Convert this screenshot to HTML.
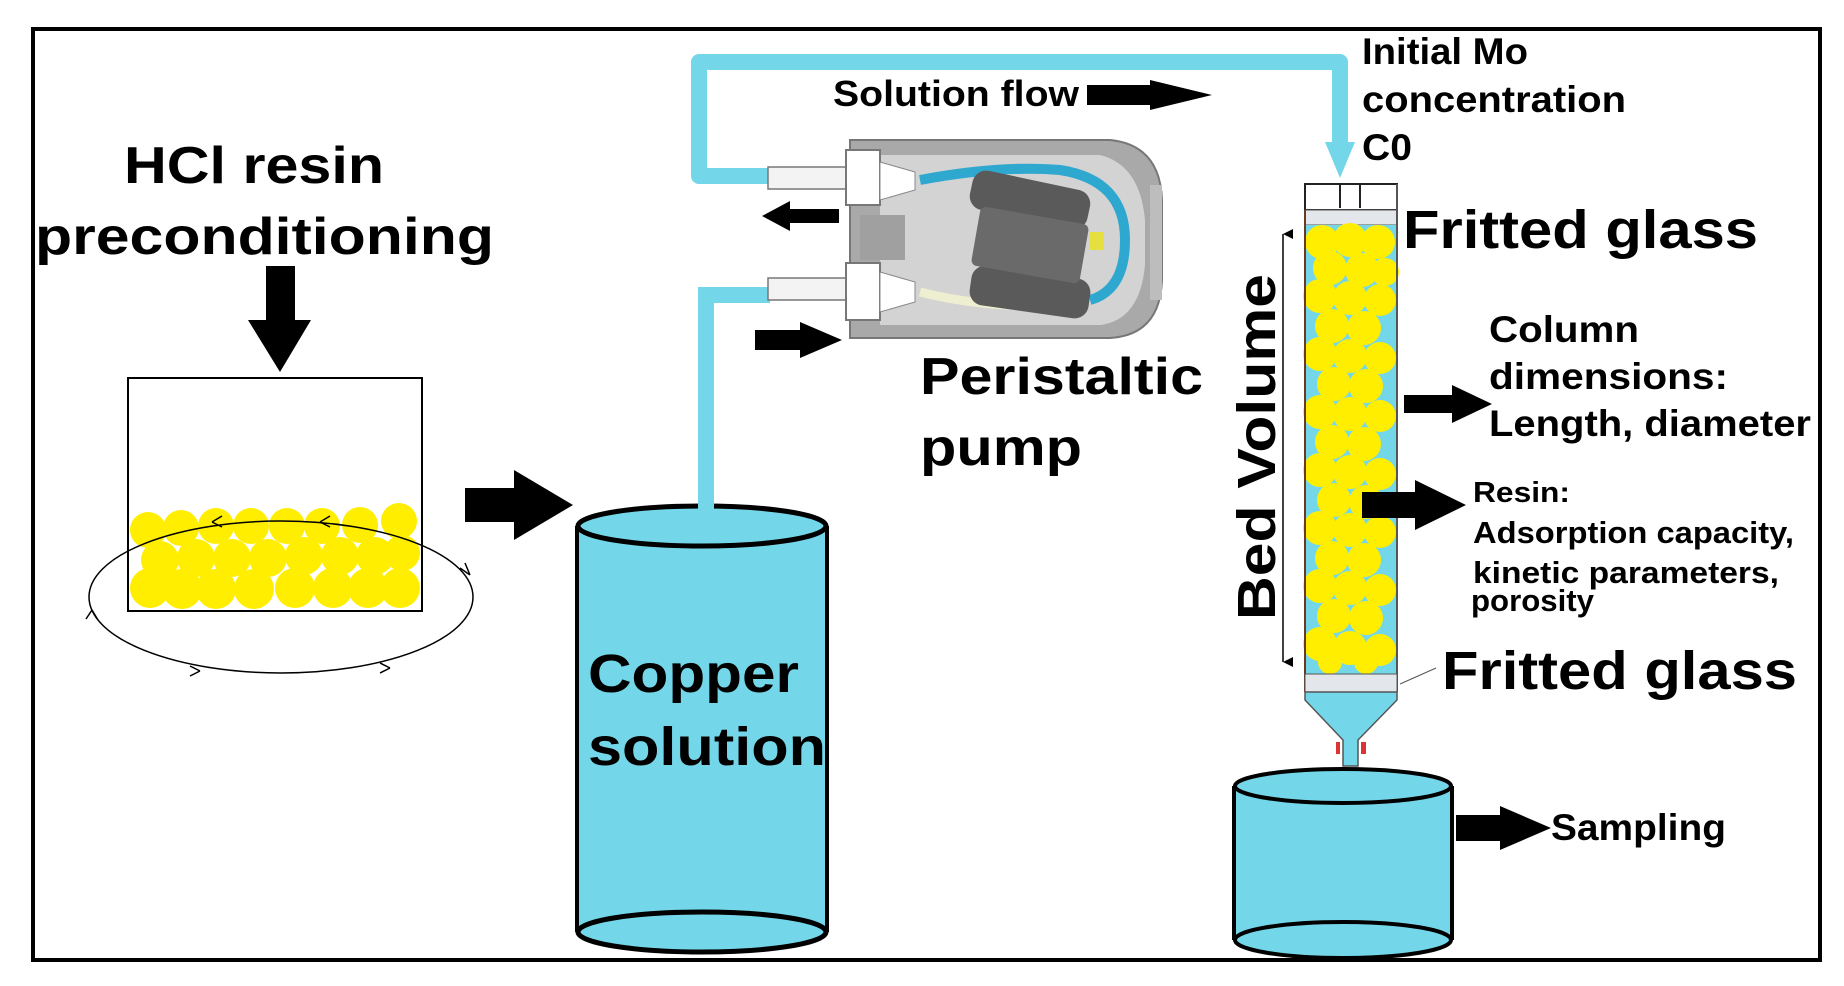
<!DOCTYPE html>
<html><head><meta charset="utf-8"><style>
html,body{margin:0;padding:0;background:#fff;}
svg{display:block;}
text{font-family:"Liberation Sans",Arial,sans-serif;font-weight:bold;fill:#000;}
</style></head><body>
<svg width="1844" height="986" viewBox="0 0 1844 986" xmlns="http://www.w3.org/2000/svg">
<defs>
<marker id="dh" markerWidth="12" markerHeight="12" refX="6" refY="10" orient="auto" markerUnits="userSpaceOnUse"><path d="M1,0 L6,10 L11,0 Z" fill="#000"/></marker>
</defs>
<rect x="33" y="29" width="1787" height="931" fill="#fff" stroke="#000" stroke-width="4"/>

<!-- left text -->
<text x="124" y="183" font-size="52" textLength="260" lengthAdjust="spacingAndGlyphs">HCl resin</text>
<text x="35" y="254" font-size="52" textLength="459" lengthAdjust="spacingAndGlyphs">preconditioning</text>
<!-- down arrow -->
<polygon points="266,266 295,266 295,320 311,320 280,372 248,320 266,320" fill="#000"/>
<!-- box -->
<rect x="128" y="378" width="294" height="233" fill="#fff" stroke="#000" stroke-width="2"/>
<g fill="#ffee00">
<circle cx="148" cy="530" r="18"/><circle cx="181" cy="528" r="18"/><circle cx="216" cy="526" r="18"/><circle cx="251" cy="526" r="18"/><circle cx="287" cy="526" r="18"/><circle cx="322" cy="526" r="18"/><circle cx="360" cy="525" r="18"/><circle cx="399" cy="521" r="18"/>
<circle cx="160" cy="560" r="19"/><circle cx="196" cy="558" r="19"/><circle cx="232" cy="558" r="19"/><circle cx="268" cy="558" r="19"/><circle cx="304" cy="556" r="19"/><circle cx="340" cy="556" r="19"/><circle cx="375" cy="556" r="19"/><circle cx="402" cy="553" r="18"/>
<circle cx="150" cy="588" r="20"/><circle cx="182" cy="589" r="20"/><circle cx="216" cy="589" r="20"/><circle cx="254" cy="589" r="20"/><circle cx="295" cy="588" r="20"/><circle cx="333" cy="588" r="20"/><circle cx="368" cy="588" r="20"/><circle cx="400" cy="588" r="20"/>
</g>
<ellipse cx="281" cy="597" rx="192" ry="76" fill="none" stroke="#000" stroke-width="1.5"/>
<path d="M212,522 l10,-6 M212,522 l10,5 M320,522 l10,-6 M320,522 l10,5 M200,671 l-10,-5 M200,671 l-10,5 M390,668 l-10,-5 M390,668 l-10,5 M470,575 l-5,-12 M470,575 l-10,-7 M92,610 l6,10 M92,610 l-6,9" stroke="#000" stroke-width="1.5" fill="none"/>
<!-- right arrow -->
<polygon points="465,488 514,488 514,470 573,505 514,540 514,522 465,522" fill="#000"/>

<!-- copper cylinder -->
<rect x="577" y="526" width="250" height="406" fill="#74d7e9"/>
<line x1="577" y1="526" x2="577" y2="932" stroke="#000" stroke-width="4"/>
<line x1="827" y1="526" x2="827" y2="932" stroke="#000" stroke-width="4"/>
<ellipse cx="702" cy="932" rx="124" ry="20" fill="#74d7e9" stroke="#000" stroke-width="5"/>
<ellipse cx="702" cy="526" rx="124" ry="20" fill="#74d7e9" stroke="#000" stroke-width="5"/>
<text x="588" y="692" font-size="54" textLength="211" lengthAdjust="spacingAndGlyphs">Copper</text>
<text x="588" y="765" font-size="54" textLength="238" lengthAdjust="spacingAndGlyphs">solution</text>

<!-- tubes -->
<path d="M706,510 L706,295 L770,295" fill="none" stroke="#74d7e9" stroke-width="16"/>
<path d="M770,176 L699,176 L699,62 L1340,62 L1340,150" fill="none" stroke="#74d7e9" stroke-width="16" stroke-linejoin="round"/>
<polygon points="1325,142 1355,142 1340,178" fill="#74d7e9"/>
<text x="833" y="106" font-size="36" textLength="246" lengthAdjust="spacingAndGlyphs">Solution flow</text>
<polygon points="1087,85 1150,85 1150,80 1212,95 1150,110 1150,105 1087,105" fill="#000"/>

<!-- pump -->
<path d="M850,140 L1110,140 Q1160,145 1162,200 L1162,280 Q1160,335 1110,338 L850,338 Z" fill="#a9a9a9" stroke="#777" stroke-width="2"/>
<path d="M880,155 L1100,155 Q1140,165 1145,220 L1145,265 Q1140,320 1100,325 L880,325 Z" fill="#d3d3d3"/>
<rect x="1150" y="185" width="12" height="115" fill="#bdbdbd"/>
<rect x="768" y="167" width="80" height="22" fill="#f3f3f3" stroke="#777" stroke-width="1.5"/>
<rect x="768" y="278" width="80" height="22" fill="#f3f3f3" stroke="#777" stroke-width="1.5"/>
<path d="M846,150 L880,150 L880,205 L846,205 Z M846,263 L880,263 L880,320 L846,320 Z" fill="#fff" stroke="#777" stroke-width="2"/>
<path d="M880,162 L915,172 L915,190 L880,200 Z M880,272 L915,282 L915,302 L880,312 Z" fill="#fff" stroke="#888" stroke-width="1"/>
<rect x="860" y="215" width="45" height="45" fill="#a0a0a0"/>
<path d="M920,180 Q1000,165 1060,170 Q1125,180 1125,240 Q1125,290 1090,300" fill="none" stroke="#2fa8d0" stroke-width="10"/>
<path d="M920,292 Q990,310 1080,305" fill="none" stroke="#eeeed0" stroke-width="9"/>
<rect x="970" y="180" width="120" height="40" rx="14" fill="#5a5a5a" transform="rotate(12 1030 200)"/>
<rect x="970" y="272" width="120" height="40" rx="14" fill="#5a5a5a" transform="rotate(8 1030 292)"/>
<rect x="975" y="215" width="110" height="60" rx="6" fill="#6a6a6a" transform="rotate(10 1030 245)"/>
<rect x="1090" y="232" width="14" height="18" fill="#e5df40"/>
<polygon points="839,209 790,209 790,201 762,216 790,231 790,223 839,223" fill="#000"/>
<polygon points="755,330 800,330 800,322 842,340 800,358 800,350 755,350" fill="#000"/>
<text x="920" y="394" font-size="52" textLength="283" lengthAdjust="spacingAndGlyphs">Peristaltic</text>
<text x="920" y="465" font-size="52" textLength="162" lengthAdjust="spacingAndGlyphs">pump</text>

<!-- Initial Mo -->
<text x="1362" y="64" font-size="37" textLength="166" lengthAdjust="spacingAndGlyphs">Initial Mo</text>
<text x="1362" y="112" font-size="37" textLength="264" lengthAdjust="spacingAndGlyphs">concentration</text>
<text x="1362" y="160" font-size="37" textLength="50" lengthAdjust="spacingAndGlyphs">C0</text>

<!-- column -->
<rect x="1305" y="184" width="92" height="26" fill="#fff" stroke="#222" stroke-width="2"/>
<line x1="1340" y1="184" x2="1340" y2="208" stroke="#222" stroke-width="2"/>
<line x1="1360" y1="184" x2="1360" y2="208" stroke="#222" stroke-width="2"/>
<rect x="1305" y="210" width="92" height="15" fill="#e3e6ea" stroke="#555" stroke-width="1"/>
<rect x="1305" y="225" width="92" height="450" fill="#74d7e9"/>
<g fill="#ffee00">
<circle cx="1322" cy="242" r="17"/><circle cx="1350" cy="240" r="17"/><circle cx="1378" cy="242" r="17"/>
<circle cx="1330" cy="268" r="17"/><circle cx="1362" cy="270" r="17"/><circle cx="1385" cy="272" r="14"/>
<circle cx="1320" cy="296" r="17"/><circle cx="1350" cy="298" r="17"/><circle cx="1380" cy="300" r="16"/>
<circle cx="1332" cy="326" r="17"/><circle cx="1364" cy="328" r="17"/>
<circle cx="1320" cy="354" r="17"/><circle cx="1350" cy="356" r="17"/><circle cx="1380" cy="358" r="16"/>
<circle cx="1334" cy="384" r="17"/><circle cx="1366" cy="386" r="17"/>
<circle cx="1320" cy="412" r="17"/><circle cx="1350" cy="414" r="17"/><circle cx="1380" cy="416" r="16"/>
<circle cx="1332" cy="442" r="17"/><circle cx="1364" cy="444" r="17"/>
<circle cx="1320" cy="470" r="17"/><circle cx="1350" cy="472" r="17"/><circle cx="1380" cy="474" r="16"/>
<circle cx="1334" cy="500" r="17"/><circle cx="1366" cy="502" r="17"/>
<circle cx="1320" cy="528" r="17"/><circle cx="1350" cy="530" r="17"/><circle cx="1380" cy="532" r="16"/>
<circle cx="1332" cy="558" r="17"/><circle cx="1364" cy="560" r="17"/>
<circle cx="1320" cy="586" r="17"/><circle cx="1350" cy="588" r="17"/><circle cx="1380" cy="590" r="16"/>
<circle cx="1334" cy="616" r="17"/><circle cx="1366" cy="618" r="17"/>
<circle cx="1320" cy="644" r="17"/><circle cx="1350" cy="648" r="17"/><circle cx="1380" cy="650" r="16"/>
<circle cx="1330" cy="662" r="12"/><circle cx="1366" cy="662" r="12"/>
</g>
<line x1="1305" y1="210" x2="1305" y2="692" stroke="#6a3a20" stroke-width="2"/>
<line x1="1397" y1="184" x2="1397" y2="692" stroke="#555" stroke-width="2"/>
<rect x="1305" y="674" width="92" height="18" fill="#e3e6ea" stroke="#555" stroke-width="1"/>
<path d="M1305,692 L1305,700 L1343,740 L1343,766 L1358,766 L1358,740 L1397,700 L1397,692 Z" fill="#74d7e9" stroke="#555" stroke-width="1.5"/>
<rect x="1336" y="742" width="4" height="12" fill="#d33"/><rect x="1361" y="742" width="5" height="12" fill="#d33"/>
<text x="1403" y="248" font-size="54" textLength="355" lengthAdjust="spacingAndGlyphs">Fritted glass</text>
<text x="1442" y="689" font-size="54" textLength="355" lengthAdjust="spacingAndGlyphs">Fritted glass</text>
<line x1="1400" y1="684" x2="1436" y2="668" stroke="#555" stroke-width="1"/>
<line x1="1283" y1="234" x2="1283" y2="662" stroke="#000" stroke-width="1.5" marker-end="url(#dh)" marker-start="url(#dh)"/>
<text transform="translate(1275,447) rotate(-90)" font-size="54" text-anchor="middle" textLength="346" lengthAdjust="spacingAndGlyphs">Bed Volume</text>

<polygon points="1404,395 1452,395 1452,385 1492,404 1452,423 1452,413 1404,413" fill="#000"/>
<text x="1489" y="342" font-size="37" textLength="150" lengthAdjust="spacingAndGlyphs">Column</text>
<text x="1489" y="389" font-size="37" textLength="239" lengthAdjust="spacingAndGlyphs">dimensions:</text>
<text x="1489" y="436" font-size="37" textLength="322" lengthAdjust="spacingAndGlyphs">Length, diameter</text>
<polygon points="1362,492 1415,492 1415,480 1466,505 1415,530 1415,518 1362,518" fill="#000"/>
<text x="1473" y="502" font-size="29" textLength="97" lengthAdjust="spacingAndGlyphs">Resin:</text>
<text x="1473" y="543" font-size="31" textLength="321" lengthAdjust="spacingAndGlyphs">Adsorption capacity,</text>
<text x="1473" y="583" font-size="31" textLength="306" lengthAdjust="spacingAndGlyphs">kinetic parameters,</text>
<text x="1471" y="611" font-size="31" textLength="123" lengthAdjust="spacingAndGlyphs">porosity</text>

<rect x="1234" y="786" width="218" height="154" fill="#74d7e9"/>
<line x1="1234" y1="786" x2="1234" y2="940" stroke="#000" stroke-width="4"/>
<line x1="1452" y1="786" x2="1452" y2="940" stroke="#000" stroke-width="4"/>
<ellipse cx="1343" cy="940" rx="108" ry="18" fill="#74d7e9" stroke="#000" stroke-width="4"/>
<ellipse cx="1343" cy="786" rx="108" ry="17" fill="#74d7e9" stroke="#000" stroke-width="4"/>
<polygon points="1456,815 1500,815 1500,806 1551,828 1500,850 1500,841 1456,841" fill="#000"/>
<text x="1551" y="840" font-size="37" textLength="175" lengthAdjust="spacingAndGlyphs">Sampling</text>
</svg>
</body></html>
